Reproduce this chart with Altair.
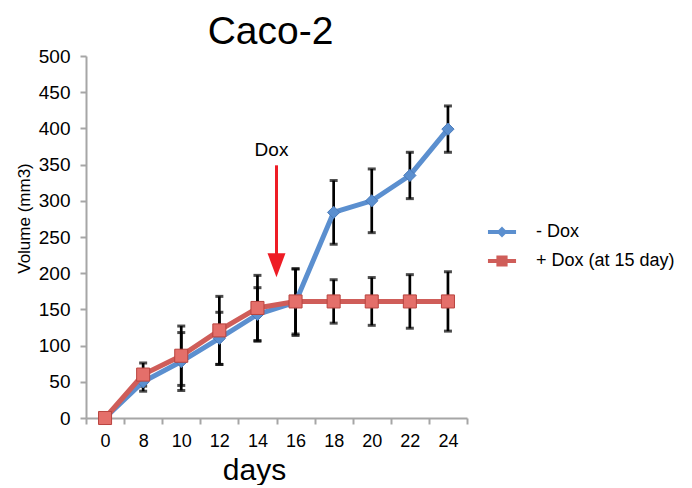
import altair as alt
import pandas as pd

days = ["0", "8", "10", "12", "14", "16", "18", "20", "22", "24"]
series_names = ["- Dox", "+ Dox (at 15 day)"]
minus_dox = [0, 50, 78, 110, 143, 160, 284, 300, 335, 399]
minus_err = [0, 13, 40, 36, 37, 46, 44, 44, 32, 32]
plus_dox = [0, 60, 86, 121, 152, 161, 161, 161, 161, 161]
plus_err = [0, 16, 41, 47, 45, 45, 30, 33, 37, 41]

# annotation ("Dox" added at day 15, between the 14 and 16 bands)
dox_day = ["16"]
dox_label = ["Dox"]
dox_label_y = [370]
dox_arrow_top = [349]
dox_arrow_bottom = [226]
dox_arrow_head = [211]

BLUE = "#5B8FCF"
BLUE_DARK = "#4A7BBB"
RED = "#CF5D59"
RED_LIGHT = "#E46F6A"
RED_DARK = "#B9443F"
ARROW = "#EE1C25"
FONT = "Liberation Sans"

rows = []
for name, vals, errs in [(series_names[0], minus_dox, minus_err),
                         (series_names[1], plus_dox, plus_err)]:
    for d, v, e in zip(days, vals, errs):
        rows.append({"day": d, "series": name, "volume": v, "lo": v - e, "hi": v + e})
df = pd.DataFrame(rows)

dox_df = pd.DataFrame({"day": dox_day, "label": dox_label, "ty": dox_label_y,
                       "top": dox_arrow_top, "bottom": dox_arrow_bottom,
                       "head": dox_arrow_head})

xscale = alt.Scale(type="band", domain=days, paddingInner=0, paddingOuter=0)
xaxis = alt.Axis(title="days", titleFontSize=30, titleFontWeight="normal",
                 labelFontSize=18, labelAngle=0, tickBand="extent",
                 domainColor="#A6A6A6", domainWidth=2, tickColor="#A6A6A6",
                 tickWidth=2, tickSize=6, labelPadding=8, titlePadding=5,
                 titleX=168, labelColor="black", titleColor="black", grid=False)
yscale = alt.Scale(domain=[0, 500], nice=False)
yaxis = alt.Axis(title="Volume (mm3)", titleFontSize=17, titleFontWeight="normal",
                 labelFontSize=19, values=list(range(0, 501, 50)), grid=False,
                 domainColor="#A6A6A6", domainWidth=2, tickColor="#A6A6A6",
                 tickWidth=2, tickSize=6, labelPadding=10, titlePadding=5,
                 titleY=162, labelColor="black", titleColor="black")

X = alt.X("day:O", sort=days, scale=xscale, axis=xaxis)
Xe = alt.X("day:O", sort=days, scale=xscale, axis=xaxis, bandPosition=0)
Y = alt.Y("volume:Q", scale=yscale, axis=yaxis)

base = alt.Chart(df)
errs = base.transform_filter("datum.hi > datum.lo")
err_rule = errs.mark_rule(color="black", strokeWidth=2.7).encode(
    x=X, y=alt.Y("lo:Q", scale=yscale, axis=yaxis), y2="hi:Q")
cap_top = errs.mark_tick(color="black", thickness=3, size=8).encode(
    x=X, y=alt.Y("hi:Q", scale=yscale, axis=yaxis))
cap_bot = errs.mark_tick(color="black", thickness=3, size=8).encode(
    x=X, y=alt.Y("lo:Q", scale=yscale, axis=yaxis))

blue = base.transform_filter(alt.datum.series == series_names[0])
red = base.transform_filter(alt.datum.series == series_names[1])

blue_line = blue.mark_line(color=BLUE, strokeWidth=5).encode(x=X, y=Y)
blue_pts = blue.mark_point(shape="diamond", filled=True, fill=BLUE, stroke=BLUE_DARK,
                           strokeWidth=1, size=150, opacity=1).encode(x=X, y=Y)
red_line = red.mark_line(color=RED, strokeWidth=5).encode(x=X, y=Y)
red_pts = red.mark_point(shape="square", filled=True, fill=RED_LIGHT, stroke=RED_DARK,
                         strokeWidth=1, size=170, opacity=1).encode(x=X, y=Y)

diamond_path = "M-1.17,0L1.17,0M0,-0.22L0.22,0L0,0.22L-0.22,0Z"
square_path = "M-1.17,0L1.17,0M-0.3,-0.3L0.3,-0.3L0.3,0.3L-0.3,0.3Z"

leg = alt.Legend(title=None, orient="none", legendX=402, legendY=162,
                 symbolSize=576, symbolStrokeWidth=4, labelFontSize=18,
                 labelOffset=20, symbolOpacity=1, padding=0, rowPadding=4,
                 labelColor="black", labelFont=FONT)
legend_layer = base.mark_point(opacity=0).encode(
    x=X, y=Y,
    shape=alt.Shape("series:N", scale=alt.Scale(domain=series_names, range=[diamond_path, square_path]), legend=leg),
    stroke=alt.Stroke("series:N", scale=alt.Scale(domain=series_names, range=[BLUE, RED]), legend=leg),
    fill=alt.Fill("series:N", scale=alt.Scale(domain=series_names, range=[BLUE, RED_LIGHT]), legend=leg),
)

adf = alt.Chart(dox_df)
dox_text = adf.mark_text(fontSize=19, dx=-5, color="black", font=FONT).encode(
    x=Xe, y=alt.Y("ty:Q", scale=yscale, axis=yaxis), text="label:N")
dox_rule = adf.mark_rule(color=ARROW, strokeWidth=3).encode(
    x=Xe, y=alt.Y("top:Q", scale=yscale, axis=yaxis), y2="bottom:Q")
dox_head = adf.mark_point(shape="M-0.75,-1L0.75,-1L0,1Z", filled=True, color=ARROW,
                          size=576, opacity=1).encode(
    x=Xe, y=alt.Y("head:Q", scale=yscale, axis=yaxis))

chart = alt.layer(
    err_rule, cap_top, cap_bot, blue_line, blue_pts, red_line, red_pts,
    legend_layer, dox_rule, dox_head, dox_text
).properties(
    width=381, height=362,
    title=alt.TitleParams("Caco-2", fontSize=39, fontWeight="normal", font=FONT,
                          color="black", dx=-6, offset=-5),
    padding={"left": 7, "top": 5, "right": 5, "bottom": 0},
).configure(font=FONT).configure_view(stroke=None)

chart.save("out.html", embed_options={"renderer": "svg", "actions": False})
